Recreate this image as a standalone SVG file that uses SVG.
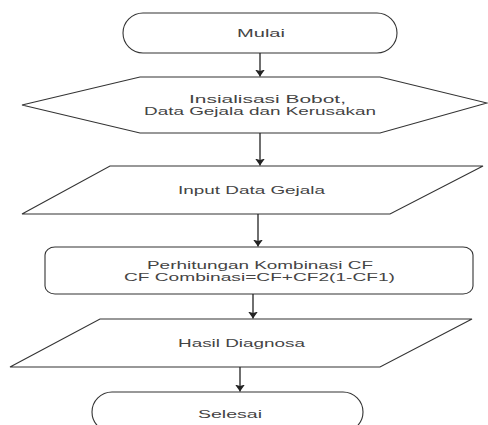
<svg xmlns="http://www.w3.org/2000/svg" width="488" height="425" viewBox="0 0 488 425">
<defs>
<style>
.shape{fill:#fff;stroke:#333;stroke-width:1.1}
.lbl{font-family:"Liberation Sans",Arial,sans-serif;font-size:11px;fill:#444;text-anchor:middle}
.conn{stroke:#222;stroke-width:1.3;fill:none}
</style>
<marker id="arr" markerUnits="userSpaceOnUse" markerWidth="12" markerHeight="10" refX="7" refY="5" orient="auto">
<path d="M0,0 L7,5 L0,10 L1.5,5 Z" fill="#222"/>
</marker>
</defs>
<rect width="488" height="425" fill="#fff"/>
<g id="mulai">
<rect class="shape" x="123" y="13" width="274" height="40" rx="20" ry="20"/>
<text class="lbl" x="261" y="37" textLength="48" lengthAdjust="spacingAndGlyphs">Mulai</text>
</g>
<g id="inisialisasi">
<polygon class="shape" points="22,105 140,77 380,77 487,103 380,133 140,133"/>
<text class="lbl" x="267.5" y="103" textLength="157" lengthAdjust="spacingAndGlyphs">Insialisasi Bobot,</text>
<text class="lbl" x="260" y="115" textLength="232" lengthAdjust="spacingAndGlyphs">Data Gejala dan Kerusakan</text>
</g>
<g id="input">
<polygon class="shape" points="110,166 483,166 390,214 22,214"/>
<text class="lbl" x="251.5" y="194" textLength="147" lengthAdjust="spacingAndGlyphs">Input Data Gejala</text>
</g>
<g id="perhitungan">
<rect class="shape" x="45" y="247" width="428" height="47" rx="10" ry="8"/>
<text class="lbl" x="260" y="269" textLength="226" lengthAdjust="spacingAndGlyphs">Perhitungan Kombinasi CF</text>
<text class="lbl" x="259.5" y="281" textLength="271" lengthAdjust="spacingAndGlyphs">CF Combinasi=CF+CF2(1-CF1)</text>
</g>
<g id="hasil">
<polygon class="shape" points="100,319 472,319 380,367 10,367"/>
<text class="lbl" x="241.5" y="347" textLength="127" lengthAdjust="spacingAndGlyphs">Hasil Diagnosa</text>
</g>
<g id="selesai">
<rect class="shape" x="92" y="392" width="271" height="40" rx="20" ry="20"/>
<text class="lbl" x="230" y="418" textLength="64" lengthAdjust="spacingAndGlyphs">Selesai</text>
</g>
<g id="connectors">
<line class="conn" x1="260" y1="53" x2="260" y2="76.5" marker-end="url(#arr)"/>
<line class="conn" x1="260" y1="133" x2="260" y2="165.5" marker-end="url(#arr)"/>
<line class="conn" x1="258" y1="214" x2="258" y2="246.5" marker-end="url(#arr)"/>
<line class="conn" x1="253" y1="294" x2="253" y2="318.5" marker-end="url(#arr)"/>
<line class="conn" x1="240" y1="367" x2="240" y2="391.5" marker-end="url(#arr)"/>
</g>
</svg>
